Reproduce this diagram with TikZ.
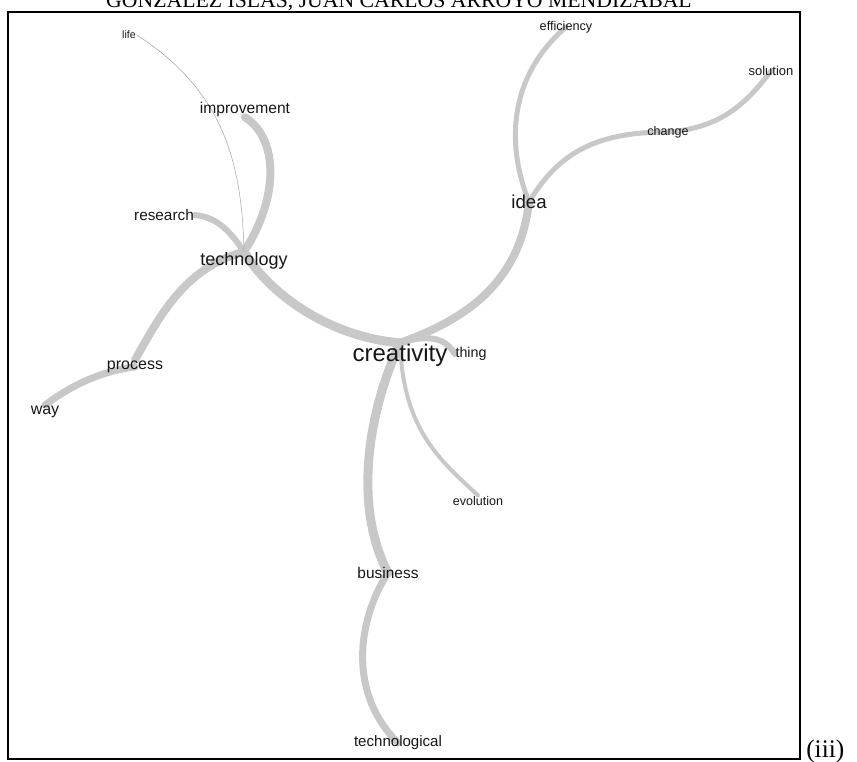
\documentclass[tikz,border=0pt]{standalone}
\usepackage{fontspec}
\setmainfont{Liberation Serif}
\newfontfamily\wordfont{Liberation Sans}
\usetikzlibrary{backgrounds}

\definecolor{linkgray}{HTML}{C8C8C8}
\definecolor{wordink}{HTML}{161616}

\begin{document}
\begin{tikzpicture}[x=0.75pt,y=-0.75pt,
    word/.style={text=wordink,inner sep=0.5pt,font=\wordfont\fontsize{#1}{#1}\selectfont},
    link/.style={draw=linkgray,line width=#1,line cap=round}]
    \useasboundingbox (0,0) rectangle (857,762);

    % header and frame
    \node[font=\fontsize{16.3}{17}\selectfont,anchor=base] (header) at (399,8) {GONZALEZ ISLAS, JUAN CARLOS ARROYO MENDIZABAL};
    \draw[line width=1.5pt] (8,12) rectangle (800,759);
    \node[font=\fontsize{19}{20}\selectfont,anchor=base west,inner sep=0pt] (tag) at (806,757) {(iii)};

    % words
    \node[word=18] (creativity) at (400,355) {creativity};
    \node[word=10.7] (thing) at (471,354) {thing};
    \node[word=13.5] (technology) at (244,261) {technology};
    \node[word=11.7] (improvement) at (245,109) {improvement};
    \node[word=11.5] (research) at (164,215) {research};
    \node[word=12] (process) at (135,367) {process};
    \node[word=12] (way) at (45,412) {way};
    \node[word=14] (idea) at (529,202) {idea};
    \node[word=9.5] (efficiency) at (566,27) {efficiency};
    \node[word=9.4] (change) at (668,132) {change};
    \node[word=9.75] (solution) at (771,71) {solution};
    \node[word=8] (life) at (129,35) {life};
    \node[word=11.6] (business) at (388,573) {business};
    \node[word=11.3] (technological) at (398,743) {technological};
    \node[word=9.4] (evolution) at (478,501) {evolution};

    % links
    \begin{scope}[on background layer]
      \draw[link=6.75pt] (technology.north) .. controls (270,295) and (330,337) .. (creativity.north);
      \draw[link=6pt] (technology.north) .. controls (278,200) and (280,140) .. (improvement.south);
      \draw[link=4.5pt] (technology.north) .. controls (228,228) and (215,217) .. (research.east);
      \draw[link=6pt] (technology.north) .. controls (185,268) and (160,315) .. (process.north);
      \draw[link=5.25pt] (process.center) .. controls (95,372) and (65,390) .. (way.north);
      \draw[draw=black!35,line width=0.4pt] (technology.north) .. controls (242,160) and (222,90) .. (life.east);
      \draw[link=6pt] (creativity.north) .. controls (470,318) and (520,280) .. (idea.center);
      \draw[link=3.75pt] (idea.center) .. controls (508,150) and (505,80) .. (efficiency.center);
      \draw[link=3.75pt] (idea.center) .. controls (560,150) and (600,132) .. (change.center);
      \draw[link=3.75pt] (change.center) .. controls (720,128) and (745,105) .. (solution.center);
      \draw[link=4.5pt] (creativity.north) .. controls (425,335) and (445,336) .. (thing.west);
      \draw[link=6.75pt] (creativity.north) .. controls (365,420) and (355,510) .. (business.center);
      \draw[link=5.25pt] (business.center) .. controls (360,615) and (345,690) .. (technological.center);
      \draw[link=3pt] (creativity.north) .. controls (403,430) and (440,460) .. (evolution.north);
    \end{scope}
\end{tikzpicture}
\end{document}
